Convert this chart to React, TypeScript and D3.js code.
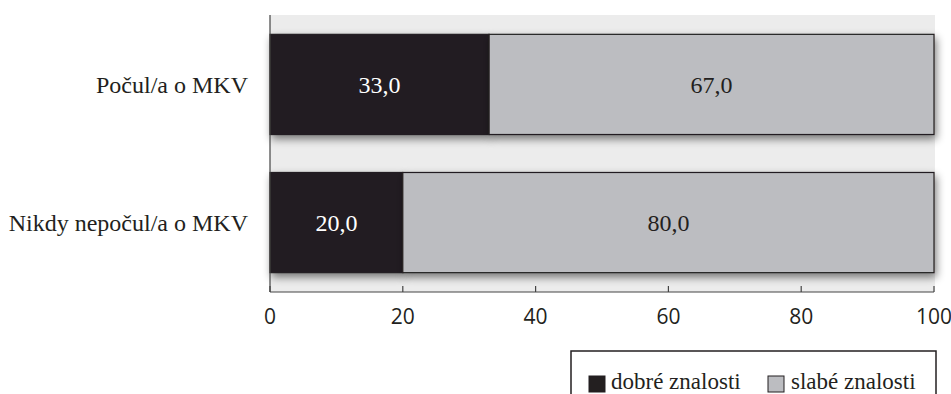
import React from "react";
import * as d3 from "d3";

const categories = ["Počul/a o MKV", "Nikdy nepočul/a o MKV"];
const goodKnowledge = [33.0, 20.0];
const poorKnowledge = [67.0, 80.0];
const seriesNames = ["dobré znalosti", "slabé znalosti"];
const xTicks = [0, 20, 40, 60, 80, 100];

const W = 951;
const H = 394;
const SERIF = "'Liberation Serif', 'Times New Roman', serif";
const SANS = "'Open Sans', 'Noto Sans', sans-serif";
const DARK = "#231f20";
const LIGHT = "#bcbdc1";

export default function App() {
  const x = d3.scaleLinear().domain([0, 100]).range([270, 934]);
  const y = d3.scaleBand().domain(categories).range([15, 292]).paddingInner(0.275).paddingOuter(0.14);
  const fmt = (v: number) => v.toFixed(1).replace(".", ",");
  const rows = categories.map((c, i) => ({
    cat: c,
    segs: [
      { x0: 0, x1: goodKnowledge[i], v: goodKnowledge[i], fill: DARK, text: "#fff" },
      { x0: goodKnowledge[i], x1: goodKnowledge[i] + poorKnowledge[i], v: poorKnowledge[i], fill: LIGHT, text: DARK },
    ],
  }));
  const axisY = 292;

  return (
    <svg width={W} height={H} style={{ position: "absolute", left: 0, top: 0 }}>
      <defs>
        <filter id="barShadow" x="-10%" y="-30%" width="120%" height="160%">
          <feGaussianBlur in="SourceAlpha" stdDeviation="4.5" />
          <feOffset dx="2" dy="4" result="blur" />
          <feComponentTransfer>
            <feFuncA type="linear" slope="0.5" />
          </feComponentTransfer>
          <feMerge>
            <feMergeNode />
            <feMergeNode in="SourceGraphic" />
          </feMerge>
        </filter>
      </defs>
      <rect x={270} y={15} width={665} height={axisY - 15} fill="#ececec" />

      {rows.map((r) => (
        <g key={r.cat}>
          {r.segs.map((s, j) => (
            <rect
              key={j}
              x={x(s.x0)}
              y={y(r.cat)!}
              width={x(s.x1) - x(s.x0)}
              height={y.bandwidth()}
              fill={s.fill}
              stroke={DARK}
              strokeWidth={1.2}
              filter="url(#barShadow)"
            />
          ))}
        </g>
      ))}

      {rows.map((r) =>
        r.segs.map((s, j) => (
          <text
            key={r.cat + j}
            x={(x(s.x0) + x(s.x1)) / 2}
            y={y(r.cat)! + y.bandwidth() / 2}
            dy="0.35em"
            textAnchor="middle"
            fontFamily={SERIF}
            fontSize={24}
            fill={s.text}
          >
            {fmt(s.v)}
          </text>
        ))
      )}

      {categories.map((c) => (
        <text
          key={c}
          x={248}
          y={y(c)! + y.bandwidth() / 2}
          dy="0.35em"
          textAnchor="end"
          fontFamily={SERIF}
          fontSize={24}
          fill={DARK}
        >
          {c}
        </text>
      ))}

      {/* axes */}
      <line x1={270} x2={270} y1={15} y2={axisY} stroke="#444" strokeWidth={1.2} />
      <line x1={270} x2={x(100)} y1={axisY} y2={axisY} stroke="#444" strokeWidth={1.2} />
      {xTicks.map((t) => (
        <g key={t}>
          <line x1={x(t)} x2={x(t)} y1={axisY} y2={axisY - 6} stroke="#444" strokeWidth={1.2} />
          <text x={x(t)} y={324} textAnchor="middle" fontFamily={SANS} fontSize={21} fill={DARK}>
            {t}
          </text>
        </g>
      ))}

      {/* legend */}
      <rect x={571} y={351} width={365} height={60} fill="#fff" stroke={DARK} strokeWidth={1.5} />
      <rect x={589} y={376} width={16} height={16} fill={DARK} stroke={DARK} />
      <text x={611} y={389} fontFamily={SERIF} fontSize={23} fill={DARK}>{seriesNames[0]}</text>
      <rect x={768} y={376} width={16} height={16} fill={LIGHT} stroke={DARK} />
      <text x={791} y={389} fontFamily={SERIF} fontSize={23} fill={DARK}>{seriesNames[1]}</text>
    </svg>
  );
}
